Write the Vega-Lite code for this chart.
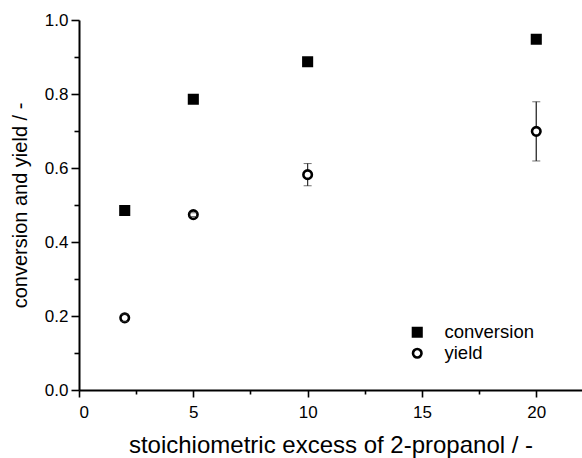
{
  "$schema": "https://vega.github.io/schema/vega-lite/v6.json",
  "width": 503,
  "height": 370,
  "autosize": {"type": "none"},
  "padding": {"left": 79, "top": 20, "right": 0, "bottom": 68},
  "background": "white",
  "config": {
    "font": "Liberation Sans",
    "view": {"stroke": null},
    "axis": {
      "grid": false,
      "domainColor": "black",
      "domainWidth": 2,
      "tickColor": "black",
      "tickWidth": 1.6,
      "labelColor": "black",
      "labelFont": "Liberation Sans",
      "labelFontSize": 17,
      "titleFont": "Liberation Sans",
      "titleFontSize": 20,
      "titleFontWeight": "normal",
      "titleColor": "black"
    }
  },
  "datasets": {
    "pts": [
      {"x": 2, "series": "conversion", "y": 0.485},
      {"x": 5, "series": "conversion", "y": 0.786},
      {"x": 10, "series": "conversion", "y": 0.887},
      {"x": 20, "series": "conversion", "y": 0.948},
      {"x": 2, "series": "yield", "y": 0.195, "ylo": 0.185, "yhi": 0.205},
      {"x": 5, "series": "yield", "y": 0.474, "ylo": 0.469, "yhi": 0.479},
      {"x": 10, "series": "yield", "y": 0.582, "ylo": 0.552, "yhi": 0.612},
      {"x": 20, "series": "yield", "y": 0.699, "ylo": 0.619, "yhi": 0.779}
    ]
  },
  "data": {"name": "pts"},
  "layer": [
    {
      "transform": [{"filter": "isValid(datum.ylo)"}],
      "mark": {"type": "rule", "color": "#333", "strokeWidth": 1},
      "encoding": {
        "x": {"field": "x", "type": "quantitative", "scale": {"domain": [0, 22], "nice": false},
          "axis": {"orient": "bottom", "values": [0, 5, 10, 15, 20], "tickSize": 7, "labelPadding": 7, "title": "stoichiometric excess of 2-propanol / -", "titleFontSize": 24, "titlePadding": 13}},
        "y": {"field": "ylo", "type": "quantitative", "scale": {"domain": [0, 1], "nice": false},
          "axis": {"orient": "left", "values": [0, 0.2, 0.4, 0.6, 0.8, 1.0], "format": ".1f", "tickSize": 8, "labelPadding": 3, "title": "conversion and yield / -", "titlePadding": 14}},
        "y2": {"field": "yhi"}
      }
    },
    {
      "transform": [{"filter": "isValid(datum.ylo)"}],
      "mark": {"type": "rule", "color": "#333", "strokeWidth": 1},
      "encoding": {
        "x": {"field": "x", "type": "quantitative",
          "axis": {"orient": "bottom", "values": [2.5, 7.5, 12.5, 17.5], "tickSize": 4, "labels": false, "domain": false, "title": null}},
        "y": {"field": "ylo", "type": "quantitative",
          "axis": {"orient": "left", "values": [0.1, 0.3, 0.5, 0.7, 0.9], "tickSize": 5, "labels": false, "domain": false, "title": null}},
        "y2": {"field": "yhi"}
      }
    },
    {
      "mark": {"type": "point", "strokeWidth": 2.6, "size": 72, "opacity": 1, "filled": false},
      "encoding": {
        "x": {"field": "x", "type": "quantitative", "axis": null},
        "y": {"field": "y", "type": "quantitative", "axis": null},
        "shape": {"field": "series", "type": "nominal", "scale": {"domain": ["conversion", "yield"], "range": ["square", "circle"]},
          "legend": {"title": null, "orient": "none", "legendX": 329, "legendY": 303, "labelFontSize": 18.5, "labelFont": "Liberation Sans", "labelColor": "black", "symbolSize": 72, "symbolStrokeWidth": 2.6, "labelOffset": 18, "rowPadding": 1}},
        "fill": {"field": "series", "type": "nominal", "scale": {"domain": ["conversion", "yield"], "range": ["black", "white"]},
          "legend": {"title": null, "orient": "none", "legendX": 329, "legendY": 303, "labelFontSize": 18.5, "labelFont": "Liberation Sans", "labelColor": "black", "symbolSize": 72, "symbolStrokeWidth": 2.6, "labelOffset": 18, "rowPadding": 1}},
        "stroke": {"field": "series", "type": "nominal", "scale": {"domain": ["conversion", "yield"], "range": ["black", "black"]},
          "legend": {"title": null, "orient": "none", "legendX": 329, "legendY": 303, "labelFontSize": 18.5, "labelFont": "Liberation Sans", "labelColor": "black", "symbolSize": 72, "symbolStrokeWidth": 2.6, "labelOffset": 18, "rowPadding": 1}}
      }
    },
    {
      "transform": [{"filter": "isValid(datum.ylo)"}],
      "mark": {"type": "tick", "orient": "horizontal", "color": "#333", "thickness": 1, "size": 8},
      "encoding": {
        "x": {"field": "x", "type": "quantitative", "axis": null},
        "y": {"field": "ylo", "type": "quantitative", "axis": null}
      }
    },
    {
      "transform": [{"filter": "isValid(datum.ylo)"}],
      "mark": {"type": "tick", "orient": "horizontal", "color": "#333", "thickness": 1, "size": 8},
      "encoding": {
        "x": {"field": "x", "type": "quantitative", "axis": null},
        "y": {"field": "yhi", "type": "quantitative", "axis": null}
      }
    }
  ],
  "resolve": {"axis": {"x": "independent", "y": "independent"}}
}
